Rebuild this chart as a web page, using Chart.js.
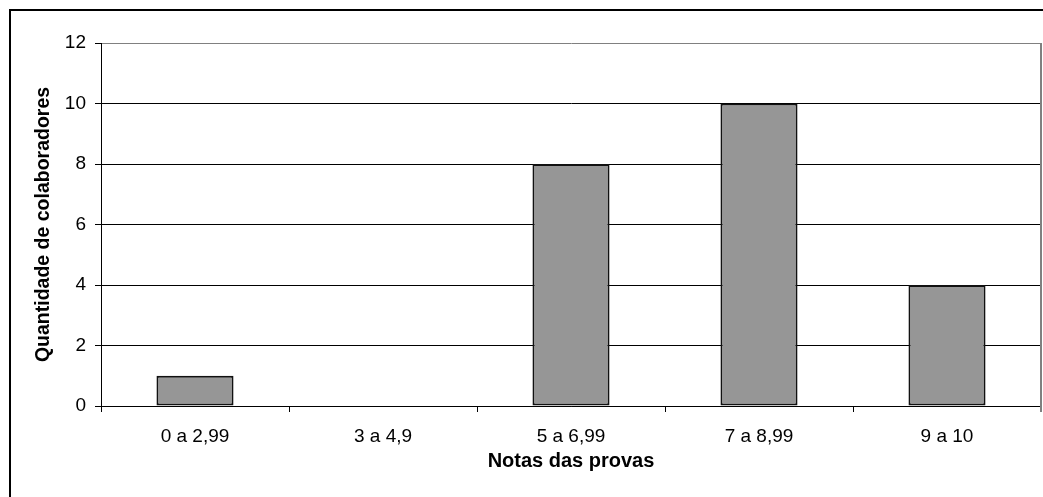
<!DOCTYPE html>
<html>
<head>
<meta charset="utf-8">
<style>
html,body{margin:0;padding:0;background:#fff;overflow:hidden;}
#wrap{width:1043px;height:497px;position:relative;}
</style>
<script src="https://cdn.jsdelivr.net/npm/chart.js@4/dist/chart.umd.min.js"></script>
</head>
<body>
<div id="wrap"><canvas id="c" width="1043" height="497"></canvas></div>
<script>
const categories = ["0 a 2,99", "3 a 4,9", "5 a 6,99", "7 a 8,99", "9 a 10"];
const values = [1, 0, 8, 10, 4];
const yTicks = [0, 2, 4, 6, 8, 10, 12];
const xTitle = "Notas das provas";
const yTitle = "Quantidade de colaboradores";

const FONT = '"Liberation Sans", Arial, sans-serif';

const framePlugin = {
  id: 'frame',
  beforeDraw(chart) {
    const ctx = chart.ctx;
    ctx.save();
    ctx.fillStyle = '#fff';
    ctx.fillRect(0, 0, chart.width, chart.height);
    ctx.strokeStyle = '#000';
    ctx.lineWidth = 2;
    ctx.strokeRect(10, 10, chart.width + 20, chart.height + 20);
    ctx.restore();
  },
  afterDraw(chart) {
    const a = chart.chartArea;
    const ctx = chart.ctx;
    ctx.save();
    ctx.strokeStyle = '#808080';
    ctx.lineWidth = 2;
    ctx.beginPath();
    ctx.moveTo(a.right, a.top);
    ctx.lineTo(a.right, a.bottom + 6);
    ctx.stroke();
    ctx.restore();
  }
};

new Chart(document.getElementById('c'), {
  type: 'bar',
  data: {
    labels: categories,
    datasets: [{
      data: values,
      backgroundColor: '#969696',
      borderColor: '#111',
      borderWidth: 2,
      borderSkipped: false,
      inflateAmount: 0,
      categoryPercentage: 1.0,
      barPercentage: 0.41
    }]
  },
  options: {
    responsive: false,
    animation: false,
    devicePixelRatio: 1,
    layout: { padding: { top: 43, right: 2, left: 0, bottom: 0 } },
    plugins: { legend: { display: false }, tooltip: { enabled: false } },
    scales: {
      x: {
        offset: true,
        grid: {
          offset: true,
          drawOnChartArea: false,
          drawTicks: true,
          tickLength: 6,
          tickColor: '#000',
          color: '#000'
        },
        border: { color: '#000', width: 1 },
        ticks: {
          color: '#000',
          font: { family: FONT, size: 19 },
          padding: 13,
          maxRotation: 0
        },
        title: {
          display: true,
          text: xTitle,
          color: '#000',
          font: { family: FONT, size: 20, weight: 'bold' },
          padding: { top: 0, bottom: 24 }
        },
        afterFit(scale) { scale.height = 91; }
      },
      y: {
        min: 0,
        max: 12,
        afterBuildTicks(scale) { scale.ticks = yTicks.map(v => ({ value: v })); },
        grid: {
          color: (c) => (c.tick && c.tick.value === 12) ? '#808080' : '#000',
          tickColor: '#000',
          tickLength: 6,
          lineWidth: 1
        },
        border: { color: '#000', width: 1 },
        ticks: {
          color: '#000',
          font: { family: FONT, size: 19 },
          padding: 9
        },
        title: {
          display: true,
          text: yTitle,
          color: '#000',
          font: { family: FONT, size: 19.5, weight: 'bold' },
          padding: { top: 32, bottom: 0 }
        },
        afterFit(scale) { scale.width = 101; }
      }
    }
  },
  plugins: [framePlugin]
});
</script>
</body>
</html>
